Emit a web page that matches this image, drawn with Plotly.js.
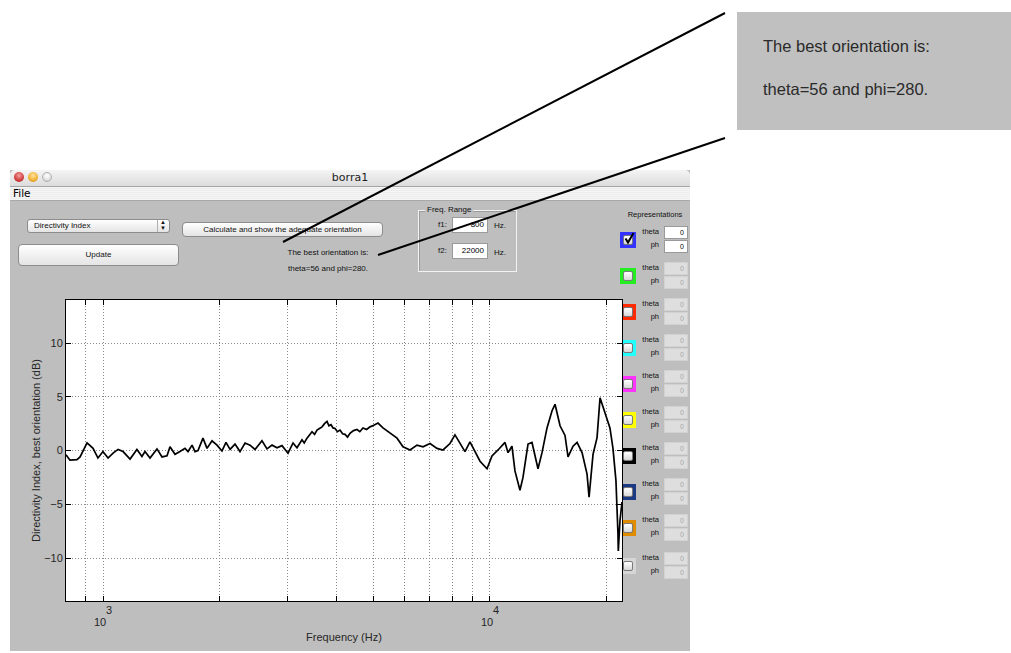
<!DOCTYPE html>
<html>
<head>
<meta charset="utf-8">
<script src="https://cdn.plot.ly/plotly-3.0.1.min.js"></script>
<style>
  html, body { margin:0; padding:0; background:#ffffff; }
  body { width:1011px; height:653px; position:relative; overflow:hidden; font-family:"Liberation Sans", Arial, sans-serif; }
  .abs { position:absolute; }
  #win { left:10px; top:170px; width:680px; height:481px; background:#bebebe; }
  #titlebar { left:10px; top:170px; width:680px; height:16px; background:linear-gradient(#f4f4f4,#dcdcdc); border-bottom:1px solid #a4a4a4; border-radius:5px 5px 0 0; }
  #titletxt { left:10px; top:171px; width:680px; text-align:center; font-size:11px; color:#222; line-height:14px; font-family:"DejaVu Sans","Liberation Sans",sans-serif; }
  .light { width:10px; height:10px; border-radius:50%; top:172px; }
  #menubar { left:10px; top:187px; width:680px; height:13px; background:repeating-linear-gradient(#f6f6f6 0px,#f6f6f6 1px,#ececec 1px,#ececec 2px); border-bottom:1px solid #a8a8a8; }
  #filetxt { left:13px; top:187px; font-size:10.5px; line-height:13px; color:#000; font-family:"DejaVu Sans","Liberation Sans",sans-serif; }
  .btn { background:linear-gradient(#ffffff,#e4e4e4); border:1px solid #8c8c8c; border-radius:4px; text-align:center; font-size:8px; color:#111; box-sizing:border-box; }
  .lbl { font-size:8px; color:#111; white-space:nowrap; }
  .edit { background:#ffffff; border:1px solid #9a9a9a; box-sizing:border-box; font-size:8px; text-align:right; padding-right:3px; color:#000; }
  .edit.off { background:#dedede; border:1px solid #d2d2d2; color:#a8a8a8; }
  .sq { width:16px; height:16px; left:620px; }
  .chk { position:absolute; left:3px; top:3px; width:10px; height:10px; border-radius:2px; background:linear-gradient(#ffffff,#d8d8d8); border:1px solid #7a7a7a; box-sizing:border-box; }
  .rl { font-size:7.5px; color:#111; text-align:right; width:30px; left:629px; }
  #callout { left:737px; top:12px; width:274px; height:118px; background:#c0c0c0; }
  .ctext { left:763px; font-size:16.5px; color:#2a2a2a; white-space:nowrap; }
  #plot { left:0px; top:0px; width:1011px; height:653px; }
  #overlay { left:0; top:0; width:1011px; height:653px; pointer-events:none; }
</style>
</head>
<body>

<div id="win" class="abs"></div>
<div id="titlebar" class="abs"></div>
<div id="titletxt" class="abs">borra1</div>
<div class="abs light" style="left:14px;background:radial-gradient(circle at 50% 35%,#f4a0a0,#d23c3c 60%,#a01818);"></div>
<div class="abs light" style="left:28px;background:radial-gradient(circle at 50% 35%,#ffe4a0,#f0b030 60%,#c07800);"></div>
<div class="abs light" style="left:42px;background:radial-gradient(circle at 50% 35%,#ffffff,#e2e2e2 60%,#b8b8b8);box-sizing:border-box;border:1px solid #b0b0b0;"></div>
<div id="menubar" class="abs"></div>
<div id="filetxt" class="abs">File</div>

<!-- controls -->
<div class="abs btn" style="left:27px;top:219px;width:143px;height:14px;text-align:left;padding-left:6px;line-height:12px;border-radius:3px;">Directivity Index</div>
<div class="abs" style="left:157px;top:220px;width:1px;height:12px;background:#b0b0b0;"></div>
<div class="abs lbl" style="left:160px;top:219px;font-size:6px;line-height:6px;">&#9650;<br>&#9660;</div>
<div class="abs btn" style="left:182px;top:222px;width:201px;height:15px;line-height:13px;">Calculate and show the adequate orientation</div>
<div class="abs btn" style="left:18px;top:244px;width:161px;height:22px;line-height:20px;">Update</div>
<div class="abs lbl" style="left:268px;top:248px;width:120px;text-align:center;">The best orientation is:</div>
<div class="abs lbl" style="left:268px;top:264px;width:120px;text-align:center;">theta=56 and phi=280.</div>

<!-- freq range frame -->
<div class="abs" style="left:418px;top:210px;width:97px;height:60px;border:1px solid #f2f2f2;box-shadow:inset 1px 1px 0 #9c9c9c;"></div>
<div class="abs lbl" style="left:425px;top:205px;background:#bebebe;padding:0 2px;line-height:9px;">Freq. Range</div>
<div class="abs lbl" style="left:430px;top:220px;width:17px;text-align:right;">f1:</div>
<div class="abs edit" style="left:452px;top:217px;width:36px;height:16px;line-height:14px;">800</div>
<div class="abs lbl" style="left:494px;top:221px;">Hz.</div>
<div class="abs lbl" style="left:430px;top:246px;width:17px;text-align:right;">f2:</div>
<div class="abs edit" style="left:452px;top:243px;width:36px;height:16px;line-height:14px;">22000</div>
<div class="abs lbl" style="left:494px;top:248px;">Hz.</div>

<div class="abs lbl" style="left:620px;top:210px;width:70px;text-align:center;font-size:7.5px;">Representations</div>
<div id="reps"></div>

<!-- callout -->
<div id="callout" class="abs"></div>
<div class="abs ctext" style="top:37px;">The best orientation is:</div>
<div class="abs ctext" style="top:80px;">theta=56 and phi=280.</div>

<div id="plot" class="abs"></div>

<svg id="overlay" class="abs" width="1011" height="653">
  <line x1="283" y1="242" x2="725" y2="13" stroke="#000" stroke-width="2"/>
  <line x1="378" y1="255" x2="725" y2="138" stroke="#000" stroke-width="2"/>
</svg>

<script>
// ---------------- data ----------------
const freqHz = [
  800, 819, 854, 870, 907, 940, 968, 997, 1028, 1059, 1091, 1124, 1172, 1221, 1258, 1281,
  1320, 1376, 1418, 1461, 1487, 1532, 1578, 1626, 1656, 1696, 1726, 1757, 1810, 1854, 1910,
  1968, 2027, 2076, 2127, 2191, 2257, 2326, 2396, 2468, 2573, 2651, 2732, 2814, 2899, 3005,
  3096, 3170, 3266, 3310, 3365, 3415, 3467, 3520, 3572, 3625, 3680, 3735, 3791, 3835, 3883,
  3930, 3977, 4035, 4097, 4160, 4220, 4285, 4348, 4440, 4533, 4610, 4698, 4800, 4899, 5010,
  5138, 5293, 5519, 5755, 5964, 6218, 6483, 6719, 7006, 7303, 7569, 7890, 8130, 8375,
  8629, 8889, 9161, 9438, 9840, 10135, 10508, 10953, 11152, 11418, 11623, 11975, 12193,
  12564, 12866, 13099, 13335, 13657, 14071, 14498, 14760, 15206, 15664, 15948, 16432,
  16829, 17339, 17863, 18077, 18513, 18960, 19300, 19884, 20474, 20847, 21221, 21475,
  21520, 21739, 22000
];
const directivityDb = [
  -0.4, -0.9, -0.85, -0.6, 0.7, 0.2, -0.7, -0.1, -0.7, -0.25, 0.1, -0.1, -0.8, 0.1, -0.55, -0.1,
  -0.7, 0.15, -0.6, -0.5, 0.35, -0.35, -0.1, 0.2, -0.1, 0.5, -0.1, 0.0, 1.15, 0.2, 0.9,
  0.5, -0.05, 0.75, 0.1, 0.6, -0.1, 0.7, 0.5, 0.1, 0.9, 0.15, 0.5, 0.25, 0.45, -0.25,
  0.7, 0.25, 1.0, 0.7, 1.15, 1.45, 1.75, 1.5, 1.9, 2.05, 2.2, 2.5, 2.7, 2.3, 2.4,
  2.1, 2.05, 1.75, 1.9, 1.55, 1.5, 1.25, 1.6, 1.85, 1.95, 1.75, 2.1, 1.95, 2.2, 2.35,
  2.55, 2.1, 1.6, 1.15, 0.35, 0.05, 0.5, 0.35, 0.65, 0.2, 0.05, 0.65, 1.45, 0.65,
  -0.1, 0.8, -0.1, -1.0, -1.7, -0.5, 0.05, 0.75, -0.2, 0.4, -1.9, -3.7, -2.5,
  0.6, 0.75, -0.6, -1.7, -0.2, 2.1, 3.7, 4.3, 2.3, 1.4, -0.6, 0.4,
  0.75, -0.2, -2.2, -4.35, -0.35, 1.2, 4.9, 3.5, 2.1, 0.2, -2.8, -7.7,
  -9.35, -6.5, -4.8
];
const freqRangeHz = [800, 22000];
const yRangeDb = [-14, 14];
const yTickVals = [-10, -5, 0, 5, 10];
const xGridVals = [900, 1000, 2000, 3000, 4000, 5000, 6000, 7000, 8000, 9000, 10000, 20000];
const decadeTicks = [1000, 10000];
const decadeExponents = ['3', '4'];
const repColors = ['#3333ff', '#22ee22', '#ff2a00', '#22ffff', '#ff33ff', '#ffff00', '#000000', '#1c3a84', '#e08c00', '#d6d6d6'];
const repCenters = [240, 276, 312, 348, 384, 420, 456, 492, 528, 566];

// ---------------- GUI: representation rows ----------------
(function buildReps(){
  const host = document.getElementById('reps');
  let html = '';
  repColors.forEach((c, i) => {
    const cy = repCenters[i];
    const on = i === 0;
    html += `<div class="abs sq" style="top:${cy-8}px;background:${c};"><div class="chk"></div>` +
      (on ? `<svg style="position:absolute;left:3px;top:0px" width="13" height="13"><path d="M2.5 6.5 L5 10.5 L10.5 1" stroke="#000" stroke-width="2" fill="none"/></svg>` : '') + `</div>`;
    html += `<div class="abs rl" style="top:${cy-13}px;">theta</div>`;
    html += `<div class="abs rl" style="top:${cy}px;">ph</div>`;
    html += `<div class="abs edit${on ? '' : ' off'}" style="left:664px;top:${cy-14}px;width:24px;height:13px;line-height:11px;font-size:7px;">0</div>`;
    html += `<div class="abs edit${on ? '' : ' off'}" style="left:664px;top:${cy}px;width:24px;height:13px;line-height:11px;font-size:7px;">0</div>`;
  });
  host.innerHTML = html;
})();

// ---------------- plot ----------------
const fontFam = '"Liberation Sans", Arial, sans-serif';
const trace = {
  x: freqHz, y: directivityDb, type: 'scatter', mode: 'lines',
  line: { color: '#000000', width: 1.7 }, hoverinfo: 'skip'
};

const annotations = [];
decadeTicks.forEach((v, i) => {
  annotations.push({ x: Math.log10(v), xref: 'x', y: 0, yref: 'paper', text: '10', showarrow: false,
    xanchor: 'center', yanchor: 'middle', xshift: -3, yshift: -21, font: { size: 11, color: '#262626', family: fontFam } });
  annotations.push({ x: Math.log10(v), xref: 'x', y: 0, yref: 'paper', text: decadeExponents[i], showarrow: false,
    xanchor: 'center', yanchor: 'middle', xshift: 6, yshift: -9, font: { size: 11, color: '#262626', family: fontFam } });
});

const layout = {
  width: 1011, height: 653,
  margin: { l: 66, r: 389, t: 300, b: 52, pad: 0 },
  paper_bgcolor: 'rgba(0,0,0,0)', plot_bgcolor: '#ffffff',
  showlegend: false,
  font: { family: fontFam, size: 11, color: '#262626' },
  xaxis: {
    type: 'log', range: freqRangeHz.map(Math.log10), autorange: false,
    tickmode: 'array', tickvals: xGridVals, ticktext: xGridVals.map(() => ''),
    ticks: 'inside', ticklen: 5, tickcolor: '#000', tickwidth: 1,
    showline: true, linecolor: '#000', linewidth: 1, mirror: 'ticks',
    showgrid: true, gridcolor: '#8a8a8a', griddash: '1px,2px', gridwidth: 1, zeroline: false,
    title: { text: 'Frequency (Hz)', font: { size: 11, color: '#262626', family: fontFam }, standoff: 30 },
    fixedrange: true
  },
  yaxis: {
    range: yRangeDb, autorange: false,
    tickmode: 'array', tickvals: yTickVals,
    ticks: 'inside', ticklen: 5, tickcolor: '#000', tickwidth: 1,
    showline: true, linecolor: '#000', linewidth: 1, mirror: 'ticks',
    showgrid: true, gridcolor: '#8a8a8a', griddash: '1px,2px', gridwidth: 1, zeroline: false,
    tickfont: { size: 11, color: '#262626', family: fontFam },
    title: { text: 'Directivity Index, best orientation (dB)', font: { size: 11, color: '#262626', family: fontFam }, standoff: 1 },
    fixedrange: true
  },
  annotations: annotations
};

Plotly.newPlot('plot', [trace], layout, { displayModeBar: false, staticPlot: true });
</script>
</body>
</html>
